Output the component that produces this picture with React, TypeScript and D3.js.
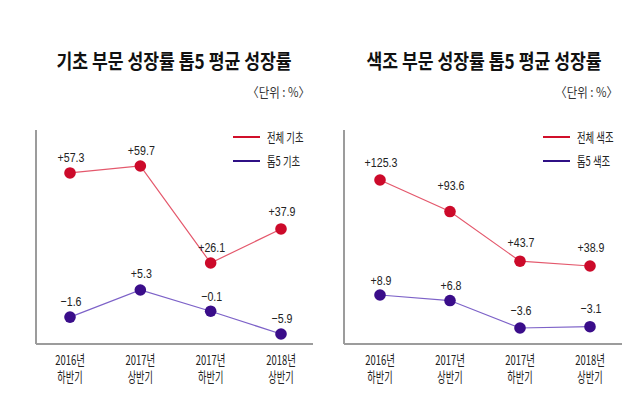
import React from "react";
import * as d3 from "d3";

const periods = ["2016년|하반기", "2017년|상반기", "2017년|하반기", "2018년|상반기"];

const leftTotal = [57.3, 59.7, 26.1, 37.9];
const leftTop5 = [-1.6, 5.3, -0.1, -5.9];
const rightTotal = [125.3, 93.6, 43.7, 38.9];
const rightTop5 = [8.9, 6.8, -3.6, -3.1];

const leftTitle = "기초 부문 성장률 톱5 평균 성장률";
const rightTitle = "색조 부문 성장률 톱5 평균 성장률";
const unitLabel = "〈단위 : %〉";
const leftLegend = ["전체 기초", "톱5 기초"];
const rightLegend = ["전체 색조", "톱5 색조"];

const KR = "'Noto Sans CJK KR', 'Noto Sans', sans-serif";
const NUM = "'Liberation Sans', Arial, sans-serif";

const C = {
  dotRed: "#cc0a2a",
  dotPurple: "#3a0d8a",
  lineRed: "#e4586c",
  linePurple: "#7d62c8",
  legRed: "#d10f2a",
  legPurple: "#2f1085",
  axis: "#9c9c9c",
};

const fmt = (v: number) => (v > 0 ? "+" : "−") + Math.abs(v).toFixed(1);

type PanelProps = {
  x0: number; x1: number; axisX: number; axisRight: number;
  title: string; titleCx: number; unitRight: number;
  total: number[]; top5: number[];
  totalY: [number[], number[]]; top5Y: [number[], number[]];
  legend: string[]; legendX: number;
  totalLift: number[]; top5Lift: number[];
};

function Cond({ x, y, sx, anchor, size, family, weight, fill, children }: any) {
  return (
    <g transform={`translate(${x},${y}) scale(${sx},1)`}>
      <text textAnchor={anchor} fontSize={size} fontFamily={family} fontWeight={weight || "normal"} fill={fill || "#222"}>
        {children}
      </text>
    </g>
  );
}

function Panel(p: PanelProps) {
  const x = d3.scalePoint<string>().domain(periods).range([p.x0, p.x1]);
  const yT = d3.scaleLinear().domain(p.totalY[0]).range(p.totalY[1]);
  const yP = d3.scaleLinear().domain(p.top5Y[0]).range(p.top5Y[1]);
  const lineT = d3.line<number>().x((_, i) => x(periods[i])!).y((d) => yT(d));
  const lineP = d3.line<number>().x((_, i) => x(periods[i])!).y((d) => yP(d));
  const top = 130, bottom = 344;
  return (
    <g>
      <Cond x={p.titleCx} y={69} sx={0.86} anchor="middle" size={20} family={KR} weight="bold" fill="#111">{p.title}</Cond>
      <Cond x={p.unitRight} y={97} sx={0.88} anchor="end" size={13} family={KR} fill="#333">{unitLabel}</Cond>

      <line x1={p.axisX} y1={top} x2={p.axisX} y2={bottom} stroke={C.axis} strokeWidth={2} />
      <line x1={p.axisX} y1={bottom} x2={p.axisRight} y2={bottom} stroke={C.axis} strokeWidth={2} />

      <line x1={p.legendX} y1={137} x2={p.legendX + 27} y2={137} stroke={C.legRed} strokeWidth={2} />
      <line x1={p.legendX} y1={161} x2={p.legendX + 27} y2={161} stroke={C.legPurple} strokeWidth={2} />
      <Cond x={p.legendX + 34} y={141.5} sx={0.72} anchor="start" size={13} family={KR} fill="#222">{p.legend[0]}</Cond>
      <Cond x={p.legendX + 34} y={165.5} sx={0.72} anchor="start" size={13} family={KR} fill="#222">{p.legend[1]}</Cond>

      <path d={lineT(p.total)!} fill="none" stroke={C.lineRed} strokeWidth={1.2} />
      <path d={lineP(p.top5)!} fill="none" stroke={C.linePurple} strokeWidth={1.2} />

      {p.total.map((v, i) => (
        <g key={"t" + i}>
          <circle cx={x(periods[i])} cy={yT(v)} r={5.8} fill={C.dotRed} />
          <Cond x={x(periods[i])! + 1} y={yT(v) - p.totalLift[i]} sx={0.82} anchor="middle" size={13} family={NUM} fill="#222">{fmt(v)}</Cond>
        </g>
      ))}
      {p.top5.map((v, i) => (
        <g key={"p" + i}>
          <circle cx={x(periods[i])} cy={yP(v)} r={5.8} fill={C.dotPurple} />
          <Cond x={x(periods[i])! + 1} y={yP(v) - p.top5Lift[i]} sx={0.82} anchor="middle" size={13} family={NUM} fill="#222">{fmt(v)}</Cond>
        </g>
      ))}

      {periods.map((c) => {
        const [a, b] = c.split("|");
        return (
          <g key={c}>
            <Cond x={x(c)} y={365} sx={0.7} anchor="middle" size={13.5} family={KR} fill="#222">{a}</Cond>
            <Cond x={x(c)} y={382} sx={0.68} anchor="middle" size={13.5} family={KR} fill="#222">{b}</Cond>
          </g>
        );
      })}
    </g>
  );
}

export default function App() {
  return (
    <svg width={640} height={420} style={{ position: "absolute", left: 0, top: 0, background: "#fff" }}>
      <rect width={640} height={420} fill="#fff" />
      <Panel
        x0={70} x1={281} axisX={36} axisRight={313}
        title={leftTitle} titleCx={174} unitRight={310}
        total={leftTotal} top5={leftTop5}
        totalY={[[26.1, 59.7], [263, 166]]}
        top5Y={[[-5.9, 5.3], [334, 290]]}
        legend={leftLegend} legendX={233}
        totalLift={[11, 11, 11, 13]} top5Lift={[11, 12, 10, 11]}
      />
      <Panel
        x0={380} x1={590} axisX={344} axisRight={622}
        title={rightTitle} titleCx={484} unitRight={618}
        total={rightTotal} top5={rightTop5}
        totalY={[[38.9, 125.3], [266, 180]]}
        top5Y={[[-3.6, 8.9], [328, 295]]}
        legend={rightLegend} legendX={543}
        totalLift={[13, 22, 14, 14]} top5Lift={[10, 11, 13, 14]}
      />
    </svg>
  );
}
